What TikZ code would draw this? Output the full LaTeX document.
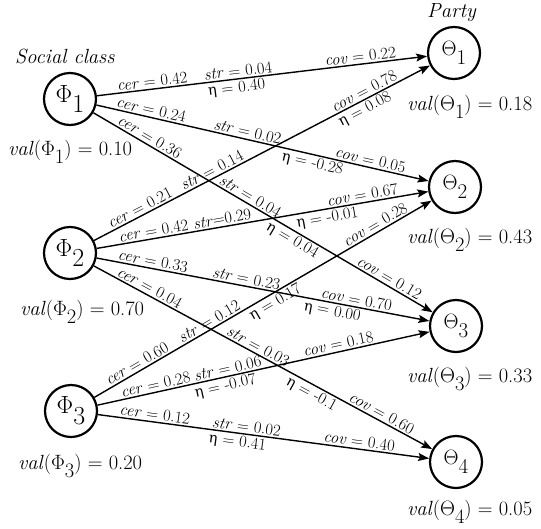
\documentclass[tikz,border=0pt]{standalone}
\usepackage{fontspec}
\newfontfamily\dvs{DejaVu Serif}
\usetikzlibrary{arrows.meta}
\newcommand{\dn}[1]{\raisebox{-0.42em}{#1}}
\newcommand{\eeta}{{\dvs\fontsize{14.5}{14.5}\selectfont η}}
\tikzset{
  var/.style={circle, draw, line width=2.2pt, minimum size=52pt, inner sep=0pt},
  phi/.style={var, font=\fontsize{26}{26}\selectfont},
  theta/.style={var, font=\fontsize{21}{21}\selectfont},
  conn/.style={line width=1.4pt, -{Stealth[length=11pt,width=8pt,inset=2pt]}},
  el/.style={font=\fontsize{16.5}{16.5}\selectfont, inner sep=1.5pt, sloped},
  vl/.style={font=\fontsize{20.5}{20.5}\selectfont, anchor=base west, inner sep=0pt},
}
\begin{document}
\begin{tikzpicture}[x=1pt,y=-1pt]
\useasboundingbox (0,0) rectangle (541,528);
\node[phi] (P1) at (70,99) {$\Phi$\dn{1}};
\node[phi] (P2) at (70,253) {$\Phi$\dn{2}};
\node[phi] (P3) at (71,411) {$\Phi$\dn{3}};
\node[theta] (T1) at (454,53) {$\Theta$\dn{1}};
\node[theta] (T2) at (455,187) {$\Theta$\dn{2}};
\node[theta] (T3) at (456,326) {$\Theta$\dn{3}};
\node[theta] (T4) at (456,462) {$\Theta$\dn{4}};

\node[vl] (sc) at (15,63) {\textit{Social class}};
\node[vl] (pa) at (427,17) {\textit{Party}};
\node[vl] (v1) at (8,155) {\textit{val}($\Phi$\dn{1}) = 0.10};
\node[vl] (v2) at (20,315) {\textit{val}($\Phi$\dn{2}) = 0.70};
\node[vl] (v3) at (18,469) {\textit{val}($\Phi$\dn{3}) = 0.20};
\node[vl] (w1) at (407,110) {\textit{val}($\Theta$\dn{1}) = 0.18};
\node[vl] (w2) at (407,243) {\textit{val}($\Theta$\dn{2}) = 0.43};
\node[vl] (w3) at (407,382) {\textit{val}($\Theta$\dn{3}) = 0.33};
\node[vl] (w4) at (407,515) {\textit{val}($\Theta$\dn{4}) = 0.05};

\draw[conn] (P1) -- (T1)
  node[el,above,pos=0.17] {\textit{cer} = 0.42}
  node[el,above,pos=0.43] {\textit{str} = 0.04}
  node[el,below,pos=0.42] {\eeta{} = 0.40}
  node[el,above,pos=0.80] {\textit{cov} = 0.22};
\draw[conn] (P1) -- (T2)
  node[el,above,pos=0.16] {\textit{cer} = 0.24}
  node[el,above,pos=0.45] {\textit{str} = 0.02}
  node[el,below,pos=0.656] {\eeta{} = -0.28}
  node[el,above,pos=0.82] {\textit{cov} = 0.05};
\draw[conn] (P1) -- (T3)
  node[el,above,pos=0.155] {\textit{cer} = 0.36}
  node[el,above,pos=0.451] {\textit{str} = 0.04}
  node[el,below,pos=0.60] {\eeta{} = 0.04}
  node[el,above,pos=0.861] {\textit{cov} = 0.12};
\draw[conn] (P2) -- (T1)
  node[el,above,pos=0.147] {\textit{cer} = 0.21}
  node[el,above,pos=0.361] {\textit{str} = 0.14}
  node[el,above,pos=0.814] {\textit{cov} = 0.78}
  node[el,below,pos=0.794] {\eeta{} = 0.08};
\draw[conn] (P2) -- (T2)
  node[el,above,pos=0.175] {\textit{cer} = 0.42}
  node[el,above,pos=0.382] {\textit{str}=0.29}
  node[el,below,pos=0.691] {\eeta{} = -0.01}
  node[el,above,pos=0.805] {\textit{cov} = 0.67};
\draw[conn] (P2) -- (T3)
  node[el,above,pos=0.165] {\textit{cer} = 0.33}
  node[el,above,pos=0.446] {\textit{str} = 0.23}
  node[el,above,pos=0.777] {\textit{cov} = 0.70}
  node[el,below,pos=0.713] {\eeta{} = 0.00};
\draw[conn] (P2) -- (T4)
  node[el,above,pos=0.154] {\textit{cer} = 0.04}
  node[el,above,pos=0.475] {\textit{str} = 0.03}
  node[el,below,pos=0.656] {\eeta{} = -0.1}
  node[el,above,pos=0.84] {\textit{cov} = 0.60};
\draw[conn] (P3) -- (T2)
  node[el,above,pos=0.1375] {\textit{cer} = 0.60}
  node[el,above,pos=0.352] {\textit{str} = 0.12}
  node[el,below,pos=0.523] {\eeta{} = 0.17}
  node[el,above,pos=0.844] {\textit{cov} = 0.28};
\draw[conn] (P3) -- (T3)
  node[el,above,pos=0.18] {\textit{cer} = 0.28}
  node[el,above,pos=0.397] {\textit{str} = 0.06}
  node[el,below,pos=0.379] {\eeta{} = -0.07}
  node[el,above,pos=0.73] {\textit{cov} = 0.18};
\draw[conn] (P3) -- (T4)
  node[el,above,pos=0.169] {\textit{cer} = 0.12}
  node[el,above,pos=0.446] {\textit{str} = 0.02}
  node[el,below,pos=0.425] {\eeta{} = 0.41}
  node[el,above,pos=0.786] {\textit{cov} = 0.40};
\end{tikzpicture}
\end{document}
